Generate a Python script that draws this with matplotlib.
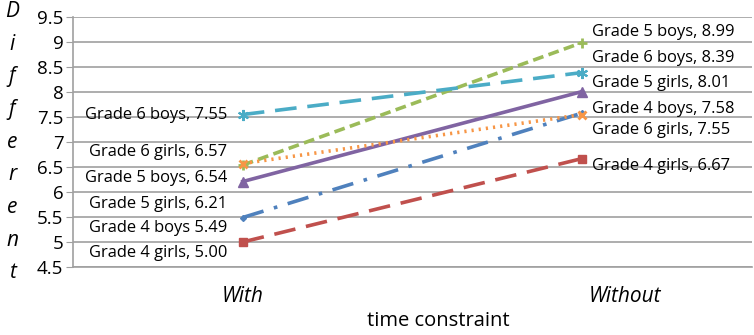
import matplotlib
matplotlib.use("Agg")
import matplotlib.pyplot as plt

# categories and series values
categories = ["With", "Without"]
g4_girls = [5.00, 6.67]
g4_boys = [5.49, 7.58]
g5_girls = [6.21, 8.01]
g5_boys = [6.54, 8.99]
g6_girls = [6.57, 7.55]
g6_boys = [7.55, 8.39]

yticks = [4.5, 5, 5.5, 6, 6.5, 7, 7.5, 8, 8.5, 9, 9.5]

# labels as printed in the original (left / right side)
left_labels = ["Grade 6 boys, 7.55", "Grade 6 girls, 6.57", "Grade 5 boys, 6.54",
               "Grade 5 girls, 6.21", "Grade 4 boys 5.49", "Grade 4 girls, 5.00"]
left_label_y = [7.55, 6.80, 6.28, 5.77, 5.28, 4.77]
right_labels = ["Grade 5 boys, 8.99", "Grade 6 boys, 8.39", "Grade 5 girls, 8.01",
                "Grade 4 boys, 7.58", "Grade 6 girls, 7.55", "Grade 4 girls, 6.67"]
right_label_y = [9.20, 8.68, 8.18, 7.66, 7.25, 6.53]

plt.rcParams['font.family'] = ['Open Sans', 'DejaVu Sans']

fig = plt.figure(figsize=(7.54, 3.35), dpi=100)
ax = fig.add_axes([0.097, 0.203, 0.900, 0.746])

x = [0, 1]
lw = 2.6
ax.plot(x, g4_girls, color='#C0504D', lw=lw, ls=(0, (6, 3)), marker='s', ms=6)
ax.plot(x, g4_boys, color='#4F81BD', lw=lw, ls=(0, (6, 3, 1, 3)), marker='D', ms=3)
ax.plot(x, g5_girls, color='#8064A2', lw=lw, ls='-', marker='^', ms=7)
ax.plot(x, g5_boys, color='#9BBB59', lw=lw, ls=(0, (3, 1.5)), marker='+', ms=7, mew=2)
ax.plot(x, g6_girls, color='#F79646', lw=lw, ls=(0, (0.6, 1.4)), marker='x', ms=6, mew=2)
ax.plot(x, g6_boys, color='#4BACC6', lw=lw, ls=(0, (6, 3)), marker=(6, 2, 0), ms=8, mew=1.5)

fs = 11.9
for lab, ly in zip(left_labels, left_label_y):
    ax.text(-0.045, ly, lab, ha='right', va='center', fontsize=fs)
for lab, ly in zip(right_labels, right_label_y):
    ax.text(1.03, ly, lab, ha='left', va='center', fontsize=fs)

ax.set_xlim(-0.5, 1.5)
ax.set_ylim(4.5, 9.5)
ax.set_yticks(yticks)
ax.set_yticklabels([f"{t:g}" for t in yticks], fontsize=13.5)
ax.set_xticks(x)
ax.set_xticklabels([])
ax.tick_params(axis='x', length=0)
# category labels, placed as in the original
for cx, lab in zip([0, 1.127], categories):
    ax.text(cx, -0.12, lab, transform=ax.get_xaxis_transform(), ha='center',
            va='center', fontsize=15, style='italic')
ax.tick_params(axis='y', length=5, color='#A0A0A0', pad=2)
ax.grid(axis='y', color='#A0A0A0', lw=1.2)
ax.set_axisbelow(True)
for s in ['top', 'right']:
    ax.spines[s].set_visible(False)
for s in ['left', 'bottom']:
    ax.spines[s].set_color('#A0A0A0')
    ax.spines[s].set_linewidth(1.2)

ax.set_xlabel("time constraint", fontsize=14.5)
ax.xaxis.set_label_coords(0.538, -0.218)
ax.xaxis.label.set_va('center')

# vertical stacked y label
fig.text(0.016, 0.997, "\n".join("Different"), ha='center', va='top',
         fontsize=15, style='italic', linespacing=1.73)

fig.savefig("out.png", dpi=100)
